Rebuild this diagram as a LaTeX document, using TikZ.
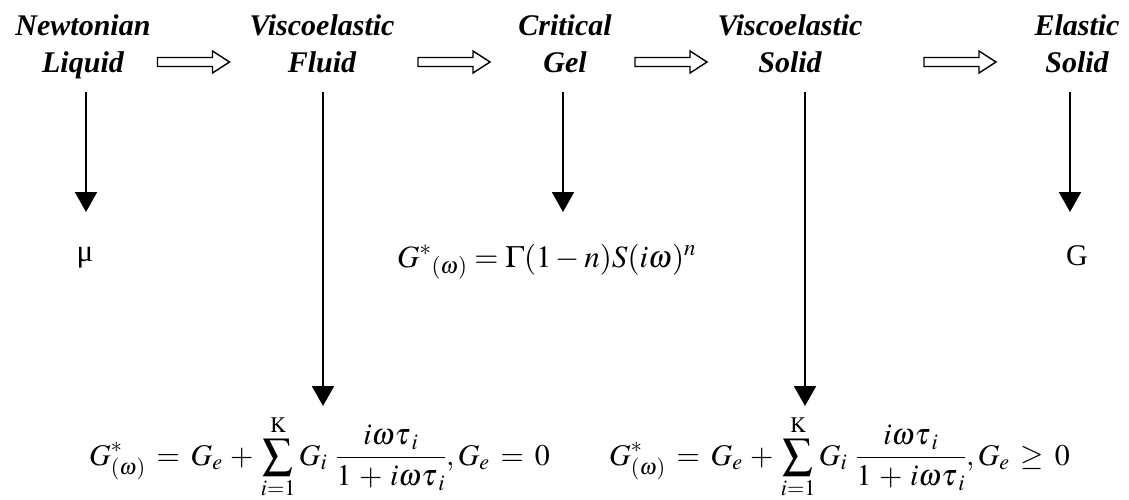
\documentclass[tikz,border=0pt]{standalone}
\usepackage{mathptmx}
\usepackage{fontspec}
\setmainfont{Liberation Serif}
\usetikzlibrary{arrows.meta}
\newcommand\hollowarrowat[1]{%
  \draw[hollowline] (#1) ++(-36,-4.5) -- ++(55,0) -- ++(0,-6.5) -- ++(17,11)
    -- ++(-17,11) -- ++(0,-6.5) -- ++(-55,0) -- cycle;}
\newcommand\wideformula[1]{$\displaystyle\thickmuskip=6.5mu\medmuskip=4.5mu
  G^{*}_{(\omega)} = G_{e} + \sum_{i=1}^{\mathrm{K}} G_{i}\mkern5mu\frac{i\omega\tau_{\mkern3mu i}}{1+i\omega\tau_{\mkern3mu i}}, G_{e} #1 0$}
\begin{document}
\begin{tikzpicture}[x=1pt,y=-1pt,
  title/.style={font=\fontsize{30}{37}\selectfont\bfseries\itshape, align=center, inner sep=0pt, anchor=north},
  hollowline/.style={line width=1.4pt, line join=miter},
  vline/.style={line width=2pt, -{Triangle[length=20pt,width=22pt]}},
  formula/.style={inner sep=0pt}
]
\useasboundingbox (0,0) rectangle (1129,500);
% titles
\node[title] (nl) at (83,14) {Newtonian\\Liquid};
\node[title] (vf) at (322,14) {Viscoelastic\\Fluid};
\node[title] (cg) at (565,14) {Critical\\Gel};
\node[title] (vs) at (790,14) {Viscoelastic\\Solid};
\node[title] (es) at (1077,14) {Elastic\\Solid};
% hollow arrows
\coordinate (h1) at (193.5,62);
\coordinate (h2) at (454,62);
\coordinate (h3) at (671,62);
\coordinate (h4) at (960,62);
\hollowarrowat{h1}
\hollowarrowat{h2}
\hollowarrowat{h3}
\hollowarrowat{h4}
% formulas
\node[formula, anchor=base, font=\fontsize{31}{34}\selectfont] (mu) at (85,261) {μ};
\node[formula, anchor=base west, font=\fontsize{31}{34}\selectfont] (gel) at (397,267) {$G^{*}{}_{(\omega)} = \Gamma(1-n)S(i\omega)^{n}$};
\node[formula, anchor=base, font=\fontsize{30}{34}\selectfont] (g) at (1077,265) {G};
\node[formula, anchor=base east, font=\fontsize{30}{34}\selectfont] (ff) at (550,465) {\wideformula{=}};
\node[formula, anchor=base east, font=\fontsize{30}{34}\selectfont] (fs) at (1070,465) {\wideformula{\geq}};
% vertical arrows
\coordinate (t1) at (86,92);
\coordinate (t2) at (323,92);
\coordinate (t3) at (563,92);
\coordinate (t4) at (805,92);
\coordinate (t5) at (1070,92);
\draw[vline] (t1) -- (t1 |- 0,212);
\draw[vline] (t2) -- (t2 |- 0,406);
\draw[vline] (t3) -- (t3 |- 0,212);
\draw[vline] (t4) -- (t4 |- 0,406);
\draw[vline] (t5) -- (t5 |- 0,212);
\end{tikzpicture}
\end{document}
